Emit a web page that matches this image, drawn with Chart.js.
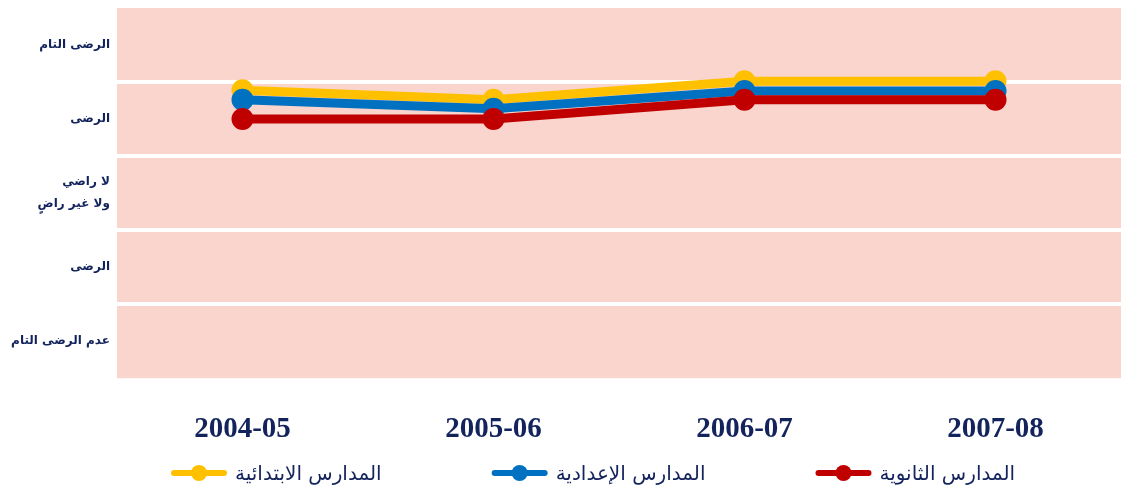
<!DOCTYPE html>
<html lang="ar">
<head>
<meta charset="utf-8">
<title>مستوى الرضى حسب المرحلة الدراسية</title>
<script src="https://cdn.jsdelivr.net/npm/chart.js@4/dist/chart.umd.min.js"></script>
<style>
  html, body { margin: 0; padding: 0; background: #ffffff; }
  #wrap { width: 1121px; height: 489px; }
</style>
</head>
<body>
<div id="wrap"><canvas id="chart" width="1121" height="489"></canvas></div>
<script>
// School years on the x axis
const years = ['2004-05', '2005-06', '2006-07', '2007-08'];

// Satisfaction scale labels, top (5) to bottom (1)
const scaleLabels = ['الرضى التام', 'الرضى', ['لا راضي', 'ولا غير راضٍ'], 'الرضى', 'عدم الرضى التام'];
const scaleValues = [1, 2, 3, 4, 5];

// Series names
const seriesNames = ['المدارس الابتدائية', 'المدارس الإعدادية', 'المدارس الثانوية'];

// Average satisfaction per school stage
const primarySchools = [4.39, 4.26, 4.51, 4.51];
const preparatorySchools = [4.26, 4.14, 4.38, 4.38];
const secondarySchools = [4.00, 4.00, 4.26, 4.26];

const seriesColors = ['#FFC000', '#0070C0', '#C00000'];
const navy = '#13235C';
const bandFill = '#F9D5CD';
const arabicFont = '"DejaVu Sans", "Liberation Sans", sans-serif';

// Pink plotting area behind the white band separators
const plotBackground = {
  id: 'plotBackground',
  beforeDraw(chart) {
    const { ctx, chartArea: a } = chart;
    ctx.save();
    ctx.fillStyle = bandFill;
    ctx.fillRect(a.left, a.top, a.right - a.left, a.bottom - a.top);
    ctx.restore();
  }
};

// Legend row: line-with-marker symbol followed by the series name
const lineLegend = {
  id: 'lineLegend',
  afterDraw(chart, args, opts) {
    const { ctx } = chart;
    const y = opts.y;
    let x = opts.startX;
    ctx.save();
    ctx.font = opts.font;
    ctx.textBaseline = 'middle';
    ctx.textAlign = 'left';
    chart.data.datasets.forEach((ds) => {
      ctx.strokeStyle = ds.borderColor;
      ctx.lineWidth = opts.lineWidth;
      ctx.lineCap = 'round';
      ctx.beginPath();
      ctx.moveTo(x + 3, y);
      ctx.lineTo(x + opts.symbolWidth - 3, y);
      ctx.stroke();
      ctx.fillStyle = ds.borderColor;
      ctx.beginPath();
      ctx.arc(x + opts.symbolWidth / 2, y, opts.markerRadius, 0, Math.PI * 2);
      ctx.fill();
      const tx = x + opts.symbolWidth + opts.textGap;
      ctx.fillStyle = opts.color;
      ctx.fillText(ds.label, tx, y + 2);
      x = tx + ctx.measureText(ds.label).width + opts.itemGap;
    });
    ctx.restore();
  }
};

const seriesData = [primarySchools, preparatorySchools, secondarySchools];

new Chart(document.getElementById('chart'), {
  type: 'line',
  data: {
    labels: years,
    datasets: seriesData.map((values, i) => ({
      label: seriesNames[i],
      data: values,
      borderColor: seriesColors[i],
      backgroundColor: seriesColors[i],
      borderWidth: 9,
      pointRadius: 11,
      pointHoverRadius: 11,
      pointBorderWidth: 0,
      tension: 0,
      fill: false,
      clip: false,
      order: 3 - i,
      yAxisID: 'y'
    }))
  },
  options: {
    responsive: false,
    animation: false,
    events: [],
    layout: { autoPadding: false, padding: { top: 8, right: 0, bottom: 8, left: 0 } },
    plugins: {
      legend: { display: false },
      tooltip: { enabled: false },
      lineLegend: {
        y: 473,
        startX: 171,
        symbolWidth: 56,
        textGap: 8,
        itemGap: 110,
        lineWidth: 6,
        markerRadius: 8,
        font: '20px ' + arabicFont,
        color: navy
      }
    },
    scales: {
      x: {
        type: 'category',
        offset: true,
        grid: { display: false, drawTicks: false },
        border: { display: false },
        ticks: {
          color: navy,
          padding: 34,
          font: { family: '"Liberation Serif", "Times New Roman", serif', size: 29, weight: 'bold' }
        }
      },
      y: {
        type: 'linear',
        position: 'left',
        min: 0.5,
        max: 5.5,
        grid: { display: false, drawTicks: false },
        border: { display: false },
        afterBuildTicks(scale) {
          scale.ticks = scaleValues.map(v => ({ value: v }));
        },
        afterFit(scale) {
          scale.width = 117;
          scale.paddingTop = 0;
          scale.paddingBottom = 0;
        },
        ticks: {
          color: navy,
          padding: 7,
          autoSkip: false,
          font: { family: arabicFont, size: 12, weight: 'bold', lineHeight: 1.8 },
          callback: (v) => scaleLabels[5 - v]
        }
      },
      bands: {
        type: 'linear',
        position: 'right',
        min: 0.5,
        max: 5.5,
        grid: { color: '#ffffff', lineWidth: 4, drawTicks: false },
        border: { display: false },
        ticks: { display: false },
        afterBuildTicks(scale) {
          scale.ticks = [1.5, 2.5, 3.5, 4.5].map(v => ({ value: v }));
        },
        afterFit(scale) {
          scale.width = 0;
          scale.paddingTop = 0;
          scale.paddingBottom = 0;
        }
      }
    }
  },
  plugins: [plotBackground, lineLegend]
});
</script>
</body>
</html>
